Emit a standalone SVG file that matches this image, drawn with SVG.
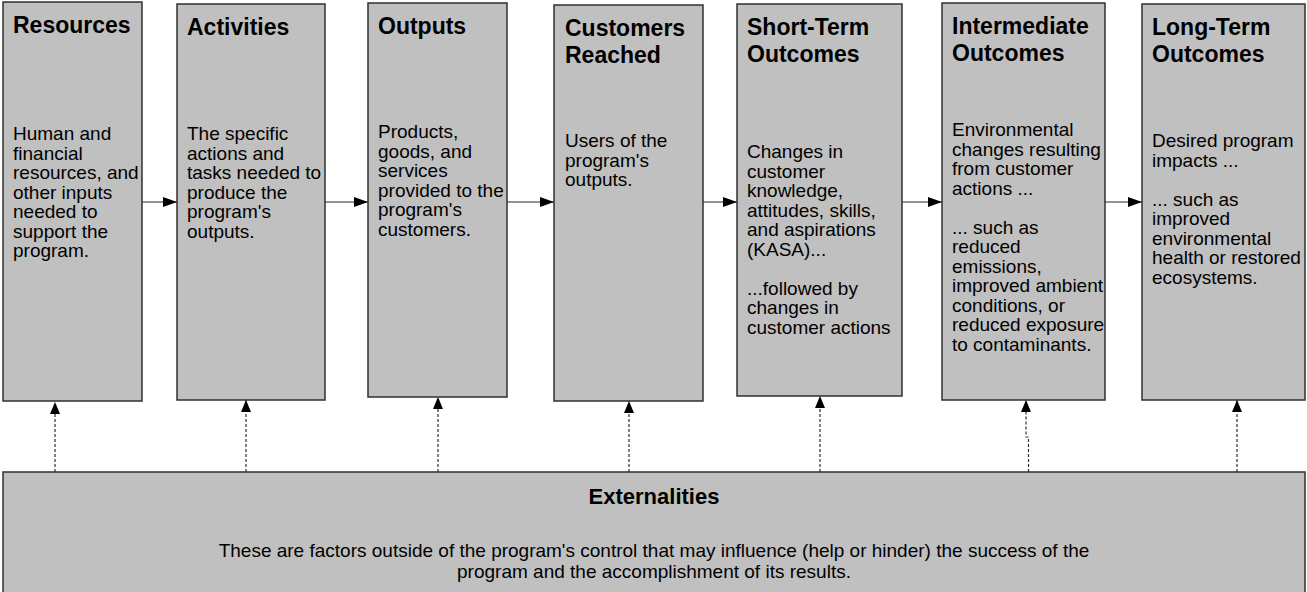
<svg xmlns="http://www.w3.org/2000/svg" width="1307" height="592" viewBox="0 0 1307 592">
<style>
.box{fill:#c0c0c0;stroke:#303030;stroke-width:1.5}
.title{font-family:"Liberation Sans",Arial,sans-serif;font-weight:bold;font-size:23px;fill:#000}
.etitle{font-family:"Liberation Sans",Arial,sans-serif;font-weight:bold;font-size:22px;fill:#000}
.body{font-family:"Liberation Sans",Arial,sans-serif;font-size:19px;fill:#000}
.ext{font-family:"Liberation Sans",Arial,sans-serif;font-size:19px;fill:#000}
.flow{stroke:#707070;stroke-width:1.5;fill:none}
.dash{stroke:#303030;stroke-width:1.2;fill:none;stroke-dasharray:3,2}
</style>
<defs>
<marker id="ah" markerUnits="userSpaceOnUse" markerWidth="16" markerHeight="12" refX="14" refY="5" orient="auto">
<path d="M0,0 L14,5 L0,10 Z" fill="#000"/>
</marker>
<marker id="av" markerUnits="userSpaceOnUse" markerWidth="14" markerHeight="12" refX="12" refY="5" orient="auto">
<path d="M0,0 L12,5 L0,10 Z" fill="#000"/>
</marker>
</defs>
<g id="connectors">
<line class="flow" x1="142" y1="202" x2="177" y2="202" marker-end="url(#ah)"/>
<line class="flow" x1="325" y1="202" x2="368" y2="202" marker-end="url(#ah)"/>
<line class="flow" x1="507" y1="202" x2="554" y2="202" marker-end="url(#ah)"/>
<line class="flow" x1="703" y1="202" x2="737" y2="202" marker-end="url(#ah)"/>
<line class="flow" x1="902" y1="202" x2="942" y2="202" marker-end="url(#ah)"/>
<line class="flow" x1="1105" y1="202" x2="1142" y2="202" marker-end="url(#ah)"/>
<line class="dash" x1="55" y1="472" x2="55" y2="402" marker-end="url(#av)"/>
<line class="dash" x1="246" y1="472" x2="246" y2="400" marker-end="url(#av)"/>
<line class="dash" x1="438" y1="472" x2="438" y2="397" marker-end="url(#av)"/>
<line class="dash" x1="629" y1="472" x2="629" y2="401" marker-end="url(#av)"/>
<line class="dash" x1="820" y1="472" x2="820" y2="396" marker-end="url(#av)"/>
<polyline class="dash" points="1028.5,472 1028.5,437 1026,437 1026,400" marker-end="url(#av)"/>
<line class="dash" x1="1237" y1="472" x2="1237" y2="400" marker-end="url(#av)"/>
</g>
<g id="resources">
<rect class="box" x="3" y="2" width="139" height="399"/>
<text class="title" x="13" y="33">Resources</text>
<text class="body" x="13" y="140"><tspan x="13">Human and</tspan><tspan x="13" dy="19.5">financial</tspan><tspan x="13" dy="19.5">resources, and</tspan><tspan x="13" dy="19.5">other inputs</tspan><tspan x="13" dy="19.5">needed to</tspan><tspan x="13" dy="19.5">support the</tspan><tspan x="13" dy="19.5">program.</tspan></text>
</g>
<g id="activities">
<rect class="box" x="177" y="4" width="148" height="396"/>
<text class="title" x="187" y="35">Activities</text>
<text class="body" x="187" y="140"><tspan x="187">The specific</tspan><tspan x="187" dy="19.5">actions and</tspan><tspan x="187" dy="19.5">tasks needed to</tspan><tspan x="187" dy="19.5">produce the</tspan><tspan x="187" dy="19.5">program's</tspan><tspan x="187" dy="19.5">outputs.</tspan></text>
</g>
<g id="outputs">
<rect class="box" x="368" y="3" width="139" height="394"/>
<text class="title" x="378" y="34">Outputs</text>
<text class="body" x="378" y="138"><tspan x="378">Products,</tspan><tspan x="378" dy="19.5">goods, and</tspan><tspan x="378" dy="19.5">services</tspan><tspan x="378" dy="19.5">provided to the</tspan><tspan x="378" dy="19.5">program's</tspan><tspan x="378" dy="19.5">customers.</tspan></text>
</g>
<g id="customers">
<rect class="box" x="554" y="5" width="149" height="396"/>
<text class="title" x="565" y="36"><tspan x="565">Customers</tspan><tspan x="565" dy="27">Reached</tspan></text>
<text class="body" x="565" y="147"><tspan x="565">Users of the</tspan><tspan x="565" dy="19.5">program's</tspan><tspan x="565" dy="19.5">outputs.</tspan></text>
</g>
<g id="short-term">
<rect class="box" x="737" y="4" width="165" height="392"/>
<text class="title" x="747" y="35"><tspan x="747">Short-Term</tspan><tspan x="747" dy="27">Outcomes</tspan></text>
<text class="body" x="747" y="158"><tspan x="747">Changes in</tspan><tspan x="747" dy="19.5">customer</tspan><tspan x="747" dy="19.5">knowledge,</tspan><tspan x="747" dy="19.5">attitudes, skills,</tspan><tspan x="747" dy="19.5">and aspirations</tspan><tspan x="747" dy="19.5">(KASA)...</tspan><tspan x="747" dy="39">...followed by</tspan><tspan x="747" dy="19.5">changes in</tspan><tspan x="747" dy="19.5">customer actions</tspan></text>
</g>
<g id="intermediate">
<rect class="box" x="942" y="3" width="163" height="397"/>
<text class="title" x="952" y="34"><tspan x="952">Intermediate</tspan><tspan x="952" dy="27">Outcomes</tspan></text>
<text class="body" x="952" y="136"><tspan x="952">Environmental</tspan><tspan x="952" dy="19.5">changes resulting</tspan><tspan x="952" dy="19.5">from customer</tspan><tspan x="952" dy="19.5">actions ...</tspan><tspan x="952" dy="39">... such as</tspan><tspan x="952" dy="19.5">reduced</tspan><tspan x="952" dy="19.5">emissions,</tspan><tspan x="952" dy="19.5">improved ambient</tspan><tspan x="952" dy="19.5">conditions, or</tspan><tspan x="952" dy="19.5">reduced exposure</tspan><tspan x="952" dy="19.5">to contaminants.</tspan></text>
</g>
<g id="long-term">
<rect class="box" x="1142" y="4" width="163" height="396"/>
<text class="title" x="1152" y="35"><tspan x="1152">Long-Term</tspan><tspan x="1152" dy="27">Outcomes</tspan></text>
<text class="body" x="1152" y="147"><tspan x="1152">Desired program</tspan><tspan x="1152" dy="19.5">impacts ...</tspan><tspan x="1152" dy="39">... such as</tspan><tspan x="1152" dy="19.5">improved</tspan><tspan x="1152" dy="19.5">environmental</tspan><tspan x="1152" dy="19.5">health or restored</tspan><tspan x="1152" dy="19.5">ecosystems.</tspan></text>
</g>
<g id="externalities">
<rect class="box" x="3" y="472" width="1302" height="125"/>
<text class="etitle" x="654" y="504" text-anchor="middle">Externalities</text>
<text class="ext" x="654" y="557" text-anchor="middle">These are factors outside of the program's control that may influence (help or hinder) the success of the</text>
<text class="ext" x="654" y="578" text-anchor="middle">program and the accomplishment of its results.</text>
</g>
</svg>
